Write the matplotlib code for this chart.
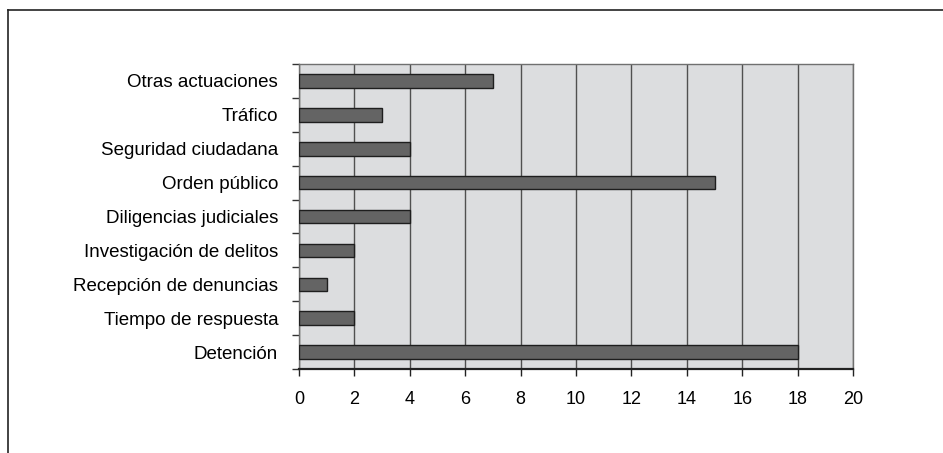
import numpy as np
import matplotlib
matplotlib.use('Agg')
import matplotlib.pyplot as plt
from matplotlib.lines import Line2D

plt.rcParams['font.family'] = ['Liberation Sans', 'DejaVu Sans']

# categories listed bottom to top
categories = ["Detención", "Tiempo de respuesta", "Recepción de denuncias",
              "Investigación de delitos", "Diligencias judiciales",
              "Orden público", "Seguridad ciudadana", "Tráfico",
              "Otras actuaciones"]
values = [18, 2, 1, 2, 4, 15, 4, 3, 7]
xticks = list(range(0, 21, 2))

W, H = 943, 453
fig = plt.figure(figsize=(W / 100, H / 100), dpi=100)
ax = fig.add_axes([299 / W, 1 - 369 / H, (853 - 299) / W, (369 - 64) / H])

y = np.arange(len(categories))
ax.set_facecolor("#dcdddf")
ax.barh(y, values, height=0.4, color="#646464", edgecolor="#1e1e1e",
        linewidth=1.0, zorder=3)

ax.set_xlim(0, 20)
ax.set_ylim(-0.5, len(categories) - 0.5)
ax.set_xticks(xticks)
ax.set_xticklabels([str(t) for t in xticks], fontsize=13)
ax.set_yticks(y)
ax.set_yticklabels(categories, fontsize=13.5)
ax.set_yticks(np.arange(-0.5, len(categories)), minor=True)
ax.tick_params(axis="y", which="major", length=0, pad=15)
ax.tick_params(axis="y", which="minor", length=5, width=1, color="#333333")
ax.tick_params(axis="x", length=5, width=1, color="#222222", pad=11)

ax.grid(axis="x", color="#505050", linewidth=1.0, zorder=1)
for side in ("top", "right", "left"):
    ax.spines[side].set_color("#707070")
    ax.spines[side].set_linewidth(1.0)
ax.spines["bottom"].set_color("#222222")
ax.spines["bottom"].set_linewidth(1.6)

# outer frame: left and top edges only
fig.add_artist(Line2D([8 / W, 8 / W], [0, 1 - 10 / H], transform=fig.transFigure,
                      color="#222222", linewidth=1.2))
fig.add_artist(Line2D([8 / W, 1], [1 - 10 / H, 1 - 10 / H], transform=fig.transFigure,
                      color="#222222", linewidth=1.2))

fig.savefig("out.png", dpi=100, facecolor="white")
